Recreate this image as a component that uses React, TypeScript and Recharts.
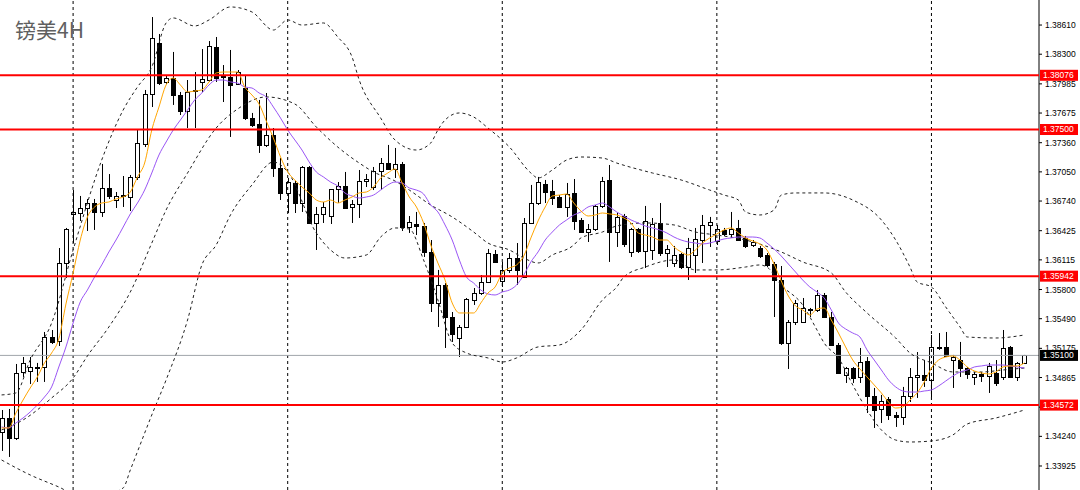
import React from 'react';
import { ComposedChart, Bar, Line, XAxis, YAxis, ReferenceLine } from 'recharts';

// GBPUSD 4H candles
const opens = [
  1.34286, 1.34435, 1.34223, 1.34924, 1.34935, 1.34977, 1.34977, 1.35296, 1.35253, 1.36082,
  1.36603, 1.36613, 1.36666, 1.36719, 1.36624, 1.36879, 1.36751, 1.36794, 1.36783, 1.36996,
  1.37346, 1.37877, 1.38419, 1.38005, 1.38047, 1.37867, 1.37697, 1.37909, 1.38005, 1.38026,
  1.38377, 1.38058, 1.38058, 1.37984, 1.37941, 1.37622, 1.37559, 1.37336, 1.37442, 1.37091,
  1.36826, 1.36932, 1.36719, 1.37102, 1.36507, 1.36603, 1.36581, 1.36868, 1.36900, 1.36677,
  1.36709, 1.36953, 1.36889, 1.37059, 1.37144, 1.37081, 1.37134, 1.36464, 1.36496, 1.36475,
  1.36199, 1.35657, 1.35848, 1.35508, 1.35285, 1.35402, 1.35689, 1.35763, 1.35880, 1.36178,
  1.35891, 1.36008, 1.36135, 1.35933, 1.36507, 1.36719, 1.36921, 1.36847, 1.36783, 1.36677,
  1.36826, 1.36539, 1.36411, 1.36443, 1.36688, 1.36964, 1.36411, 1.36581, 1.36199, 1.36443,
  1.36209, 1.36220, 1.36507, 1.36188, 1.36082, 1.36178, 1.36039, 1.36167, 1.36326, 1.36486,
  1.36316, 1.36433, 1.36390, 1.36454, 1.36348, 1.36273, 1.36241, 1.36167, 1.36071, 1.35901,
  1.35232, 1.35455, 1.35455, 1.35593, 1.35583, 1.35742, 1.35508, 1.35211, 1.34892, 1.34966,
  1.34871, 1.35041, 1.34669, 1.34531, 1.34637, 1.34467, 1.34446, 1.34669, 1.34871, 1.34892,
  1.34839, 1.35190, 1.35190, 1.35051, 1.35051, 1.34966, 1.34871, 1.34903, 1.34881, 1.34913,
  1.34871, 1.35190, 1.34871, 1.35020,
];
const highs = [
  1.34520, 1.34531, 1.35009, 1.35083, 1.35083, 1.35020, 1.35349, 1.35370, 1.36241, 1.36454,
  1.36857, 1.36794, 1.36762, 1.36762, 1.37134, 1.37027, 1.36836, 1.37006, 1.37017, 1.37495,
  1.37920, 1.38695, 1.38515, 1.38079, 1.38324, 1.37899, 1.38026, 1.38111, 1.38355, 1.38440,
  1.38483, 1.38185, 1.38345, 1.38132, 1.38079, 1.37676, 1.37814, 1.37888, 1.37516, 1.37197,
  1.36985, 1.36953, 1.37112, 1.37112, 1.36677, 1.36730, 1.36868, 1.36942, 1.37049, 1.36751,
  1.37070, 1.37027, 1.37102, 1.37197, 1.37336, 1.37304, 1.37155, 1.36581, 1.36624, 1.36507,
  1.36326, 1.36008, 1.35869, 1.35561, 1.35423, 1.35710, 1.35816, 1.35954, 1.36231, 1.36220,
  1.36093, 1.36188, 1.36294, 1.36560, 1.36911, 1.36996, 1.36964, 1.36964, 1.36804, 1.36932,
  1.36974, 1.36560, 1.36496, 1.36698, 1.36996, 1.37123, 1.36613, 1.36603, 1.36454, 1.36454,
  1.36688, 1.36560, 1.36719, 1.36273, 1.36263, 1.36188, 1.36348, 1.36454, 1.36592, 1.36571,
  1.36486, 1.36454, 1.36624, 1.36539, 1.36369, 1.36326, 1.36263, 1.36188, 1.36093, 1.36050,
  1.35476, 1.35689, 1.35710, 1.35604, 1.35795, 1.35763, 1.35561, 1.35232, 1.34977, 1.34977,
  1.35179, 1.35083, 1.34754, 1.34680, 1.34658, 1.34499, 1.34765, 1.34966, 1.35136, 1.35051,
  1.35317, 1.35338, 1.35349, 1.35105, 1.35243, 1.34977, 1.34924, 1.34924, 1.35020, 1.35051,
  1.35370, 1.35200, 1.35030, 1.35105,
];
const lows = [
  1.34085, 1.34021, 1.34201, 1.34871, 1.34796, 1.34818, 1.34818, 1.35221, 1.35200, 1.35923,
  1.36294, 1.36528, 1.36422, 1.36433, 1.36571, 1.36762, 1.36666, 1.36677, 1.36634, 1.36964,
  1.37314, 1.37739, 1.37973, 1.37984, 1.37761, 1.37654, 1.37516, 1.37516, 1.37899, 1.38005,
  1.38005, 1.37792, 1.37421, 1.37973, 1.37601, 1.37527, 1.37251, 1.37314, 1.36996, 1.36751,
  1.36613, 1.36613, 1.36624, 1.36496, 1.36220, 1.36507, 1.36496, 1.36719, 1.36656, 1.36507,
  1.36560, 1.36889, 1.36857, 1.36857, 1.37070, 1.36985, 1.36422, 1.36401, 1.36379, 1.36146,
  1.35561, 1.35402, 1.35179, 1.35243, 1.35083, 1.35391, 1.35636, 1.35742, 1.35869, 1.36082,
  1.35827, 1.35976, 1.35848, 1.35923, 1.36496, 1.36698, 1.36719, 1.36698, 1.36666, 1.36571,
  1.36433, 1.36401, 1.36305, 1.36422, 1.36666, 1.36093, 1.36252, 1.36252, 1.36146, 1.36188,
  1.36029, 1.36114, 1.36156, 1.36039, 1.36039, 1.36018, 1.35901, 1.35976, 1.36082, 1.36252,
  1.36273, 1.36369, 1.36348, 1.36316, 1.36241, 1.36252, 1.36135, 1.36039, 1.35508, 1.35211,
  1.34956, 1.35423, 1.35444, 1.35508, 1.35561, 1.35498, 1.35200, 1.34903, 1.34807, 1.34807,
  1.34807, 1.34488, 1.34329, 1.34382, 1.34414, 1.34340, 1.34361, 1.34605, 1.34648, 1.34765,
  1.34658, 1.35158, 1.35083, 1.34754, 1.34871, 1.34850, 1.34786, 1.34818, 1.34701, 1.34775,
  1.34839, 1.34860, 1.34828, 1.35009,
];
const closes = [
  1.34435, 1.34223, 1.34913, 1.35020, 1.34977, 1.34966, 1.35296, 1.35243, 1.36082, 1.36443,
  1.36624, 1.36666, 1.36719, 1.36624, 1.36879, 1.36794, 1.36794, 1.36804, 1.36996, 1.37357,
  1.37877, 1.38472, 1.37994, 1.38047, 1.37867, 1.37697, 1.37899, 1.37920, 1.38037, 1.38387,
  1.38047, 1.38069, 1.37973, 1.38111, 1.37622, 1.37548, 1.37336, 1.37442, 1.37091, 1.36826,
  1.36942, 1.36719, 1.37102, 1.36507, 1.36603, 1.36677, 1.36868, 1.36900, 1.36666, 1.36709,
  1.36953, 1.36974, 1.37059, 1.37144, 1.37081, 1.37134, 1.36464, 1.36518, 1.36475, 1.36199,
  1.35657, 1.35848, 1.35508, 1.35328, 1.35402, 1.35699, 1.35763, 1.35880, 1.36188, 1.36093,
  1.36008, 1.36135, 1.36008, 1.36507, 1.36719, 1.36942, 1.36836, 1.36772, 1.36677, 1.36815,
  1.36528, 1.36411, 1.36443, 1.36688, 1.36953, 1.36411, 1.36571, 1.36284, 1.36443, 1.36209,
  1.36528, 1.36496, 1.36188, 1.36231, 1.36167, 1.36039, 1.36241, 1.36337, 1.36486, 1.36518,
  1.36443, 1.36390, 1.36443, 1.36326, 1.36263, 1.36305, 1.36156, 1.36061, 1.35901, 1.35232,
  1.35455, 1.35657, 1.35604, 1.35583, 1.35742, 1.35508, 1.35211, 1.34913, 1.34966, 1.34860,
  1.35030, 1.34669, 1.34520, 1.34616, 1.34467, 1.34446, 1.34669, 1.34871, 1.34892, 1.34839,
  1.35190, 1.35179, 1.35094, 1.35083, 1.34966, 1.34903, 1.34903, 1.34881, 1.34988, 1.34807,
  1.35179, 1.34871, 1.35020, 1.35100,
];

// orange (fast) and purple (slow) moving averages
const fastMa = [
  1.34329, 1.34329, 1.34488, 1.34626, 1.34754, 1.34871, 1.35020, 1.35126, 1.35275, 1.35646,
  1.35976, 1.36326, 1.36571, 1.36677, 1.36719, 1.36730, 1.36762, 1.36783, 1.36836, 1.36996,
  1.37144, 1.37495, 1.37739, 1.37973, 1.38047, 1.37973, 1.37899, 1.37909, 1.37920, 1.38005,
  1.38100, 1.38111, 1.38111, 1.38111, 1.37952, 1.37867, 1.37771, 1.37591, 1.37410, 1.37208,
  1.37049, 1.36964, 1.36889, 1.36826, 1.36751, 1.36730, 1.36751, 1.36719, 1.36751, 1.36783,
  1.36826, 1.36836, 1.36889, 1.36985, 1.37038, 1.37081, 1.36932, 1.36783, 1.36677, 1.36507,
  1.36273, 1.36082, 1.35901, 1.35657, 1.35551, 1.35551, 1.35551, 1.35657, 1.35763, 1.35827,
  1.35976, 1.36029, 1.36061, 1.36156, 1.36348, 1.36528, 1.36677, 1.36794, 1.36804, 1.36815,
  1.36719, 1.36634, 1.36581, 1.36592, 1.36613, 1.36603, 1.36592, 1.36560, 1.36507, 1.36401,
  1.36379, 1.36358, 1.36326, 1.36326, 1.36252, 1.36199, 1.36167, 1.36220, 1.36294, 1.36348,
  1.36390, 1.36433, 1.36454, 1.36401, 1.36348, 1.36316, 1.36284, 1.36220, 1.36071, 1.35891,
  1.35731, 1.35625, 1.35583, 1.35529, 1.35593, 1.35604, 1.35476, 1.35338, 1.35190, 1.35051,
  1.34956, 1.34871, 1.34786, 1.34701, 1.34605, 1.34541, 1.34552, 1.34626, 1.34701, 1.34818,
  1.34966, 1.35051, 1.35083, 1.35094, 1.35051, 1.34977, 1.34935, 1.34913, 1.34903, 1.34924,
  1.34977, 1.34988, 1.34988, 1.35020,
];
const slowMa = [
  1.34340, 1.34329, 1.34382, 1.34435, 1.34499, 1.34573, 1.34658, 1.34765, 1.34977, 1.35190,
  1.35444, 1.35668, 1.35795, 1.35933, 1.36061, 1.36199, 1.36326, 1.36464, 1.36603, 1.36719,
  1.36857, 1.37038, 1.37229, 1.37367, 1.37495, 1.37601, 1.37707, 1.37814, 1.37888, 1.37973,
  1.38026, 1.38026, 1.38005, 1.37994, 1.37952, 1.37941, 1.37888, 1.37846, 1.37739, 1.37622,
  1.37495, 1.37389, 1.37282, 1.37155, 1.37049, 1.36996, 1.36942, 1.36900, 1.36826, 1.36794,
  1.36772, 1.36783, 1.36804, 1.36857, 1.36911, 1.36942, 1.36932, 1.36879, 1.36857, 1.36815,
  1.36698, 1.36624, 1.36486, 1.36326, 1.36114, 1.35933, 1.35869, 1.35795, 1.35753, 1.35742,
  1.35774, 1.35795, 1.35848, 1.35954, 1.36093, 1.36199, 1.36326, 1.36411, 1.36486, 1.36539,
  1.36592, 1.36624, 1.36677, 1.36698, 1.36719, 1.36677, 1.36624, 1.36581, 1.36539, 1.36507,
  1.36475, 1.36454, 1.36433, 1.36401, 1.36358, 1.36326, 1.36305, 1.36294, 1.36284, 1.36294,
  1.36316, 1.36337, 1.36348, 1.36358, 1.36358, 1.36358, 1.36348, 1.36294, 1.36231, 1.36156,
  1.36071, 1.35986, 1.35901, 1.35827, 1.35774, 1.35710, 1.35583, 1.35444, 1.35381, 1.35338,
  1.35296, 1.35158, 1.35051, 1.34945, 1.34839, 1.34765, 1.34722, 1.34711, 1.34711, 1.34722,
  1.34733, 1.34775, 1.34828, 1.34881, 1.34924, 1.34945, 1.34977, 1.34988, 1.34998, 1.34998,
  1.34998, 1.34988, 1.34977, 1.34966,
];

// bollinger bands, read at [candle index, price]
const upperBand: [number, number][] = [
  [0, 1.34680], [2, 1.34701], [4, 1.35051], [7, 1.35444], [10, 1.36220], [14, 1.37176],
  [17, 1.37707], [19, 1.37952], [21, 1.38164], [23, 1.38632], [24, 1.38685], [27, 1.38600],
  [29, 1.38664], [32, 1.38802], [35, 1.38749], [38, 1.38557], [40, 1.38664], [42, 1.38610],
  [45, 1.38632], [47, 1.38483], [49, 1.38270], [50, 1.38026], [53, 1.37622], [55, 1.37389],
  [58, 1.37282], [60, 1.37357], [61, 1.37495], [62, 1.37601], [64, 1.37676], [66, 1.37633],
  [68, 1.37516], [71, 1.37314], [74, 1.37038], [75, 1.36985], [77, 1.37070], [79, 1.37176],
  [81, 1.37208], [84, 1.37197], [86, 1.37144], [91, 1.37038], [95, 1.36964], [99, 1.36857],
  [101, 1.36804], [103, 1.36751], [104, 1.36624], [106, 1.36592], [108, 1.36645], [109, 1.36804],
  [111, 1.36826], [115, 1.36826], [119, 1.36751], [123, 1.36539], [125, 1.36326], [127, 1.36039],
  [128, 1.35880], [130, 1.35827], [132, 1.35614], [134, 1.35402], [135, 1.35296], [139, 1.35285],
  [143, 1.35317],
];
const middleBand: [number, number][] = [
  [0, 1.34308], [3, 1.34414], [7, 1.34648], [10, 1.34860], [12, 1.35094], [15, 1.35402],
  [18, 1.35774], [21, 1.36294], [23, 1.36645], [26, 1.37038], [30, 1.37516], [33, 1.37718],
  [37, 1.37846], [41, 1.37771], [44, 1.37527], [47, 1.37314], [50, 1.37144], [52, 1.37049],
  [55, 1.36953], [57, 1.36857], [60, 1.36698], [63, 1.36571], [66, 1.36411], [68, 1.36294],
  [71, 1.36220], [73, 1.36135], [75, 1.36082], [77, 1.36167], [80, 1.36273], [81, 1.36348],
  [84, 1.36411], [86, 1.36475], [90, 1.36507], [94, 1.36486], [97, 1.36411], [100, 1.36379],
  [104, 1.36326], [109, 1.36199], [112, 1.36093], [116, 1.35976], [118, 1.35774], [121, 1.35551],
  [125, 1.35285], [127, 1.35126], [130, 1.35020], [133, 1.34924], [137, 1.34924], [140, 1.34945],
  [143, 1.34966],
];
const lowerBand: [number, number][] = [
  [0, 1.33989], [4, 1.33830], [8, 1.33702], [12, 1.33564], [17, 1.33692], [18, 1.33883],
  [21, 1.34467], [23, 1.34839], [26, 1.35476], [28, 1.36061], [30, 1.36273], [32, 1.36592],
  [35, 1.36911], [38, 1.37155], [40, 1.37049], [44, 1.36401], [46, 1.36220], [48, 1.36135],
  [51, 1.36167], [53, 1.36358], [55, 1.36454], [57, 1.36443], [59, 1.36114], [61, 1.35689],
  [63, 1.35232], [65, 1.35126], [68, 1.35073], [70, 1.35030], [72, 1.35073], [75, 1.35190],
  [78, 1.35211], [81, 1.35370], [84, 1.35689], [86, 1.35827], [87, 1.35933], [90, 1.36039],
  [94, 1.36114], [97, 1.36008], [100, 1.36008], [104, 1.36039], [106, 1.36061], [107, 1.36039],
  [109, 1.35848], [112, 1.35636], [114, 1.35370], [115, 1.35232], [117, 1.35073], [119, 1.34786],
  [121, 1.34520], [123, 1.34308], [125, 1.34201], [127, 1.34180], [130, 1.34191], [133, 1.34255],
  [135, 1.34371], [139, 1.34435], [143, 1.34520],
];

const priceTicks = [
  1.38610, 1.38300, 1.37985, 1.37675, 1.37360, 1.37050, 1.36740, 1.36425,
  1.36115, 1.35800, 1.35490, 1.35175, 1.34865, 1.34550, 1.34240, 1.33925,
];
const levels = [1.38076, 1.375, 1.35942, 1.34572];
const lastPrice = 1.351;
const weekStarts = [10, 40, 70, 100, 130];

const rows = opens.map((open, i) => ({
  i,
  open,
  high: highs[i],
  low: lows[i],
  close: closes[i],
  fast: fastMa[i],
  slow: slowMa[i],
  upper: null as number | null,
  mid: null as number | null,
  lower: null as number | null,
}));
upperBand.forEach(([i, v]) => { rows[i].upper = v; });
middleBand.forEach(([i, v]) => { rows[i].mid = v; });
lowerBand.forEach(([i, v]) => { rows[i].lower = v; });

const FONT = 'Liberation Sans, Arial, sans-serif';
const W = 1080;
const H = 490;
const MARGIN = { top: 0, right: 0, bottom: 0, left: -2 };
const DOMAIN: [number, number] = [1.3367, 1.38876];

function Candle(props: any) {
  const { x, y, width, height, payload } = props;
  if (!payload || x == null || y == null) return null;
  const top = Math.min(y, y + height);
  const h = Math.abs(height);
  const { open, high, low, close } = payload;
  const span = high - low || 1e-9;
  const toY = (p: number) => top + ((high - p) / span) * h;
  const c = Math.round(x + width / 2);
  const up = close >= open;
  const bTop = Math.round(toY(Math.max(open, close))) + 0.5;
  const bBot = Math.round(toY(Math.min(open, close))) + 0.5;
  return (
    <g>
      <line x1={c + 0.5} x2={c + 0.5} y1={top} y2={top + h} stroke="#000" strokeWidth={1} />
      <rect
        x={c - 1.5}
        y={bTop}
        width={4}
        height={Math.max(bBot - bTop, 1)}
        fill={up ? '#fff' : '#000'}
        stroke="#000"
        strokeWidth={1}
      />
    </g>
  );
}

function tag(text: string, color: string) {
  return (props: any) => {
    const vb = props.viewBox || {};
    const x = vb.x + vb.width + 1;
    const y = vb.y;
    return (
      <g>
        <rect x={x} y={y - 5.5} width={38} height={11} fill={color} />
        <text x={x + 3} y={y} dy="0.35em" fontSize={8.5} fontFamily={FONT} fill="#fff">
          {text}
        </text>
      </g>
    );
  };
}

const bandLine = { type: 'monotone' as const, stroke: '#222', strokeDasharray: '3 3', dot: false, activeDot: false, connectNulls: true, isAnimationActive: false };

export default function App() {
  return (
    <div style={{ position: 'fixed', left: 0, top: 0, width: W, height: H, background: '#fff' }}>
      <div style={{ position: 'absolute', left: 0, top: 0 }}>
        <ComposedChart width={W} height={H} data={rows} margin={MARGIN}>
          <XAxis dataKey="i" type="category" hide padding={{ left: 0, right: 11 }} />
          <YAxis
            orientation="right"
            type="number"
            width={41}
            domain={DOMAIN}
            allowDataOverflow
            ticks={priceTicks}
            interval={0}
            tickSize={3}
            tickMargin={3}
            axisLine={{ stroke: '#000' }}
            tickLine={{ stroke: '#000' }}
            tick={{ fontSize: 8.5, fill: '#000', fontFamily: FONT }}
            tickFormatter={(v: number) => v.toFixed(5)}
          />
          {weekStarts.map((w) => (
            <ReferenceLine key={w} x={w} stroke="#000" strokeDasharray="3 3" />
          ))}
          <ReferenceLine y={lastPrice} stroke="#a0a5aa" />
          <Bar dataKey={(d: any) => [d.low, d.high]} barSize={5} shape={Candle} isAnimationActive={false} />
          <Line dataKey="upper" {...bandLine} />
          <Line dataKey="mid" {...bandLine} />
          <Line dataKey="lower" {...bandLine} />
          <Line dataKey="slow" type="monotone" stroke="#9a55f5" strokeWidth={1} dot={false} activeDot={false} isAnimationActive={false} />
          <Line dataKey="fast" type="monotone" stroke="#ffa500" strokeWidth={1} dot={false} activeDot={false} isAnimationActive={false} />
        </ComposedChart>
      </div>
      {/* price levels and their tags sit on top of the axis labels */}
      <div style={{ position: 'absolute', left: 0, top: 0 }}>
        <ComposedChart width={W} height={H} data={rows} margin={MARGIN}>
          <XAxis dataKey="i" type="category" hide padding={{ left: 0, right: 11 }} />
          <YAxis
            orientation="right"
            type="number"
            width={41}
            domain={DOMAIN}
            allowDataOverflow
            tick={false}
            axisLine={false}
            tickLine={false}
          />
          <ReferenceLine y={lastPrice} stroke="none" label={tag(lastPrice.toFixed(5), '#000')} />
          {levels.map((lv) => (
            <ReferenceLine key={lv} y={lv} stroke="#ff0000" strokeWidth={2} label={tag(lv.toFixed(5), '#ff0000')} />
          ))}
        </ComposedChart>
      </div>
      <div
        style={{
          position: 'absolute',
          left: 15,
          top: 17,
          fontSize: 21,
          lineHeight: '24px',
          color: '#606060',
          fontFamily: '"Noto Sans CJK SC", sans-serif',
        }}
      >
        镑美4H
      </div>
    </div>
  );
}
